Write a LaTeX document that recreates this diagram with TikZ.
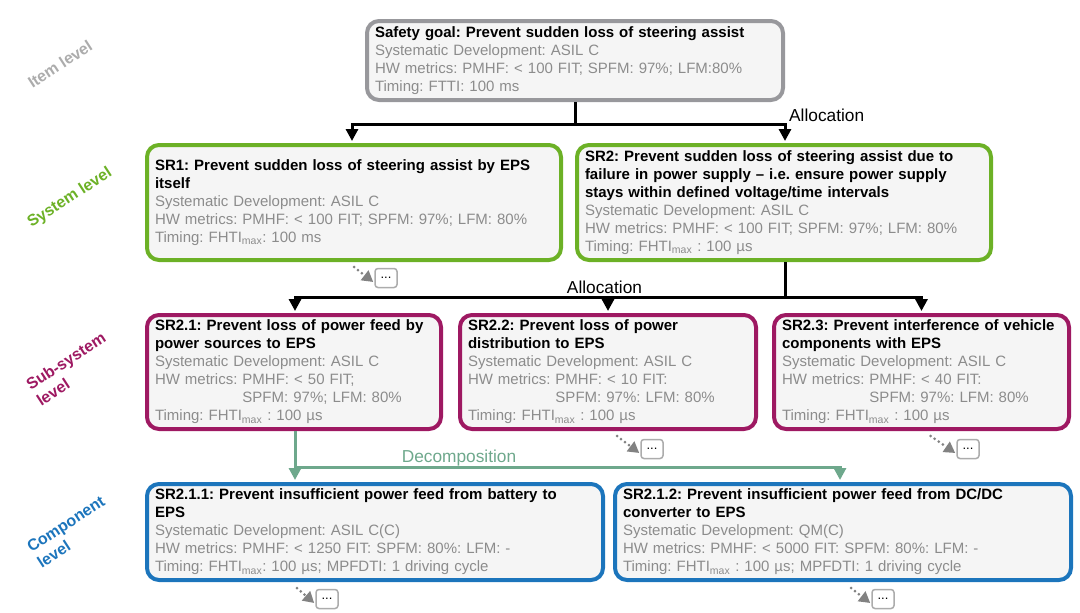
\documentclass[tikz,border=0pt]{standalone}
\usepackage{fontspec}
\setmainfont{Liberation Sans}
\usetikzlibrary{arrows.meta,calc}
\definecolor{boxfill}{RGB}{245,245,245}
\definecolor{bodygray}{RGB}{140,140,140}
\definecolor{sgc}{RGB}{152,152,156}
\definecolor{grn}{RGB}{108,177,38}
\definecolor{mag}{RGB}{158,25,98}
\definecolor{blu}{RGB}{28,117,188}
\definecolor{dec}{RGB}{110,168,140}
\definecolor{itemgray}{RGB}{172,172,172}
\definecolor{dotgray}{RGB}{130,130,130}
\newcommand\ttl[1]{\textcolor{black}{\bfseries #1}}
\newcommand\mx{\textsubscript{max}}
\frenchspacing
\begin{document}
\begin{tikzpicture}[x=1pt,y=-1pt,
  box/.style={draw=#1, line width=4pt, rounded corners=12pt, fill=boxfill,
    inner xsep=8pt, inner ysep=0pt, align=left,
    font=\fontsize{15}{18}\selectfont\frenchspacing, text=bodygray},
  conn/.style={line width=3pt, draw=black, -{Triangle[width=12pt,length=12pt]}, shorten >=2pt},
  line/.style={line width=3pt, draw=black},
  dconn/.style={line width=3pt, draw=dec, -{Triangle[width=12pt,length=12pt]}, shorten >=2pt},
  dline/.style={line width=3pt, draw=dec},
  lbl/.style={font=\fontsize{17.3}{20}\selectfont, inner sep=0pt},
  dots/.style={draw=itemgray, line width=1.5pt, rounded corners=3pt, fill=white,
    minimum width=22pt, minimum height=19pt, inner sep=0pt,
    font=\fontsize{13}{13}\selectfont},
  dotarr/.style={draw=dotgray, line width=3pt, line cap=round, dash pattern=on 0pt off 5pt,
    -{Triangle[width=12pt,length=11pt,fill=dotgray,line cap=butt]}},
  lvl/.style={font=\fontsize{16}{19}\selectfont\bfseries, rotate=33, align=left, inner sep=0pt}
]
\useasboundingbox (0,0) rectangle (1080,613);

% level labels
\node[lvl, text=itemgray] (lv1) at (60,64) {Item level};
\node[lvl, text=grn] (lv2) at (70,198) {System level};
\node[lvl, text=mag] (lv3) at (71,369) {Sub-system\\level};
\node[lvl, text=blu] (lv4) at (71,532) {Component\\level};

% boxes
\node[box=sgc, text width=400pt, minimum height=79pt] (sg) at (575,60.5) {%
\ttl{Safety goal: Prevent sudden loss of steering assist}\\
Systematic Development: ASIL C\\
HW metrics: PMHF: < 100 FIT; SPFM: 97\%; LFM:80\%\\
Timing: FTTI: 100 ms};

\node[box=grn, text width=398pt, minimum height=115pt] (sr1) at (354,202.5) {%
\ttl{SR1: Prevent sudden loss of steering assist by EPS}\\
\ttl{itself}\\
Systematic Development: ASIL C\\
HW metrics: PMHF: < 100 FIT; SPFM: 97\%; LFM: 80\%\\
Timing: FHTI\mx: 100 ms};

\node[box=grn, text width=398pt, minimum height=115pt] (sr2) at (784,202.5) {%
\ttl{SR2: Prevent sudden loss of steering assist due to}\\
\ttl{failure in power supply – i.e. ensure power supply}\\
\ttl{stays within defined voltage/time intervals}\\
Systematic Development: ASIL C\\
HW metrics: PMHF: < 100 FIT; SPFM: 97\%; LFM: 80\%\\
Timing: FHTI\mx\ : 100 µs};

\node[box=mag, text width=278pt, minimum height=114pt] (sr21) at (294,372) {%
\ttl{SR2.1: Prevent loss of power feed by}\\
\ttl{power sources to EPS}\\
Systematic Development: ASIL C\\
HW metrics: PMHF: < 50 FIT;\\
\hphantom{HW metrics: }SPFM: 97\%; LFM: 80\%\\
Timing: FHTI\mx\ : 100 µs};

\node[box=mag, text width=280pt, minimum height=114pt] (sr22) at (608,372) {%
\ttl{SR2.2: Prevent loss of power}\\
\ttl{distribution to EPS}\\
Systematic Development: ASIL C\\
HW metrics: PMHF: < 10 FIT:\\
\hphantom{HW metrics: }SPFM: 97\%: LFM: 80\%\\
Timing: FHTI\mx\ : 100 µs};

\node[box=mag, text width=279pt, minimum height=114pt] (sr23) at (921.5,372) {%
\ttl{SR2.3: Prevent interference of vehicle}\\
\ttl{components with EPS}\\
Systematic Development: ASIL C\\
HW metrics: PMHF: < 40 FIT:\\
\hphantom{HW metrics: }SPFM: 97\%: LFM: 80\%\\
Timing: FHTI\mx\ : 100 µs};

\node[box=blu, text width=440pt, minimum height=96pt] (sr211) at (375,532) {%
\ttl{SR2.1.1: Prevent insufficient power feed from battery to}\\
\ttl{EPS}\\
Systematic Development: ASIL C(C)\\
HW metrics: PMHF: < 1250 FIT: SPFM: 80\%: LFM: -\\
Timing: FHTI\mx: 100 µs; MPFDTI: 1 driving cycle};

\node[box=blu, text width=440pt, minimum height=96pt] (sr212) at (843,532) {%
\ttl{SR2.1.2: Prevent insufficient power feed from DC/DC}\\
\ttl{converter to EPS}\\
Systematic Development: QM(C)\\
HW metrics: PMHF: < 5000 FIT: SPFM: 80\%: LFM: -\\
Timing: FHTI\mx\ : 100 µs; MPFDTI: 1 driving cycle};

% allocation 1
\coordinate (j1) at ($(sg.south)+(0,22)$);
\draw[line] (sg.south) -- (j1);
\draw[conn] (j1) -| ([xshift=-2pt]sr1.north);
\draw[conn] (j1) -| ([xshift=1pt]sr2.north);
\node[lbl, anchor=base west] (al1) at ($([xshift=1pt]sr2.north |- j1)+(4,-3)$) {Allocation};

% allocation 2
\coordinate (j2) at ($(sr2.south)+(1,35)$);
\draw[line] ([xshift=1pt]sr2.south) -- (j2);
\draw[conn] (j2) -| ([xshift=1pt]sr21.north);
\draw[conn] (j2) -| (sr22.north);
\draw[conn] (j2) -| (sr23.north);
\node[lbl, anchor=base] (al2) at ($(sr22.north |- j2)+(-3.5,-4)$) {Allocation};

% decomposition
\coordinate (j3) at ($(sr21.south)+(1,36)$);
\draw[dline] ([xshift=1pt]sr21.south) -- (j3);
\draw[dconn] (j3) -- (j3 |- sr211.north);
\draw[dconn] (j3) -| ([xshift=-3pt]sr212.north);
\node[lbl, text=dec, anchor=base] (dl) at ($(j3)+(164,-5)$) {Decomposition};

% continuation markers
\node[dots] (d1) at (386,278) {...};
\node[dots] (d2) at (652,449) {...};
\node[dots] (d3) at (968,449) {...};
\node[dots] (d4) at (327,599) {...};
\node[dots] (d5) at (883,599) {...};
\draw[dotarr] ($(sr1.south)+(0,5)$) -- ($(d1.west)+(-1,4)$);
\draw[dotarr] ($(sr22.south)+(9,5)$) -- ($(d2.west)+(-1,4)$);
\draw[dotarr] ($(sr23.south)+(9,5)$) -- ($(d3.west)+(-1,4)$);
\draw[dotarr] ($(sr211.south)+(-78,6)$) -- ($(d4.west)+(-1,4)$);
\draw[dotarr] ($(sr212.south)+(8,6)$) -- ($(d5.west)+(-1,4)$);
\end{tikzpicture}
\end{document}
